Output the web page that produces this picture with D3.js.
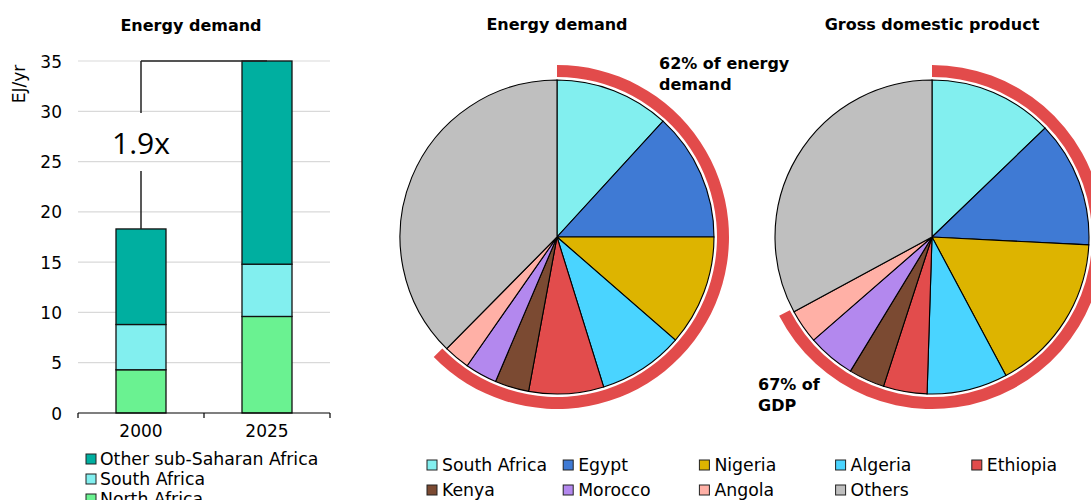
<!DOCTYPE html>
<html><head><meta charset="utf-8">
<script src="https://cdn.jsdelivr.net/npm/d3@7"></script>
<style>
html,body{margin:0;padding:0;background:#fff;}
svg{display:block;font-family:"DejaVu Sans",sans-serif;}
</style></head>
<body><svg id="c" width="1091" height="500"></svg>
<script>
// ---- Data ----
const years = ["2000", "2025"];
const barSeries = ["North Africa", "South Africa", "Other sub-Saharan Africa"];
const northAfrica = [4.3, 9.6];
const southAfricaBar = [4.5, 5.2];
const otherSSA = [9.5, 20.2];
const yTicks = [0, 5, 10, 15, 20, 25, 30, 35];
const growthLabel = "1.9x";

const countries = ["South Africa", "Egypt", "Nigeria", "Algeria", "Ethiopia", "Kenya", "Morocco", "Angola", "Others"];
const energyShare = [11.8, 13.2, 11.4, 8.8, 7.7, 3.5, 3.3, 2.7, 37.6];
const gdpShare = [12.8, 13.0, 16.4, 8.3, 4.5, 3.7, 4.9, 3.5, 32.9];
const energyNote = ["62% of energy", "demand"];
const gdpNote = ["67% of", "GDP"];

// ---- Styles ----
const barColors = {"North Africa": "#6AF291", "South Africa": "#82EFEF", "Other sub-Saharan Africa": "#00AFA0"};
const pieColors = ["#82EFEF", "#3F7AD4", "#DDB400", "#4AD4FF", "#E24C4C", "#7B4A32", "#B388EE", "#FFB0A6", "#BFBFBF"];
const red = "#E24B4B";
const fs = 17, lfs = 17.3;

const svg = d3.select("#c");
svg.append("rect").attr("width", 1091).attr("height", 500).attr("fill", "#fff");

// ---- Bar chart ----
const x = d3.scaleBand().domain(years).range([78, 330]).paddingInner(0).paddingOuter(0);
const y = d3.scaleLinear().domain([0, 35]).range([413, 61]);
const bw = 50;

svg.append("text").attr("x", 191).attr("y", 31).attr("text-anchor", "middle")
  .attr("font-weight", "bold").attr("font-size", 16).text("Energy demand");

svg.append("text").attr("transform", "translate(25,84) rotate(-90)").attr("text-anchor", "middle")
  .attr("font-size", fs).text("EJ/yr");

const grid = svg.append("g");
yTicks.filter(t => t > 0).forEach(t => {
  grid.append("line").attr("x1", 78).attr("x2", 330).attr("y1", y(t)).attr("y2", y(t))
    .attr("stroke", "#D9D9D9").attr("stroke-width", 1.2);
});
const yAxis = d3.axisLeft(y).tickValues(yTicks).tickSize(0).tickPadding(0);
const yg = svg.append("g").attr("transform", "translate(62,0)").call(yAxis);
yg.select(".domain").remove();
yg.selectAll("text").attr("font-size", fs).attr("font-family", "DejaVu Sans").attr("fill", "#000").attr("dy", "0.36em");

const stackData = years.map((yr, i) => ({year: yr, "North Africa": northAfrica[i], "South Africa": southAfricaBar[i], "Other sub-Saharan Africa": otherSSA[i]}));
const stacked = d3.stack().keys(barSeries)(stackData);
stacked.forEach(layer => {
  svg.append("g").selectAll("rect").data(layer).join("rect")
    .attr("x", d => x(d.data.year) + x.bandwidth() / 2 - bw / 2)
    .attr("width", bw)
    .attr("y", d => y(d[1]))
    .attr("height", d => y(d[0]) - y(d[1]))
    .attr("fill", barColors[layer.key]).attr("stroke", "#111").attr("stroke-width", 1.3);
});

// x axis
const xAxisG = svg.append("g");
xAxisG.append("line").attr("x1", 78).attr("x2", 330).attr("y1", 413).attr("y2", 413).attr("stroke", "#000").attr("stroke-width", 1.2);
[78, 204, 330].forEach(px => xAxisG.append("line").attr("x1", px).attr("x2", px).attr("y1", 413).attr("y2", 418).attr("stroke", "#000").attr("stroke-width", 1.2));
years.forEach(yr => xAxisG.append("text").attr("x", x(yr) + x.bandwidth() / 2).attr("y", 437)
  .attr("text-anchor", "middle").attr("font-size", fs).text(yr));

// bracket
const tot = years.map((yr, i) => northAfrica[i] + southAfricaBar[i] + otherSSA[i]);
const cx0 = x(years[0]) + x.bandwidth() / 2, cx1 = x(years[1]) + x.bandwidth() / 2;
const br = svg.append("g").attr("stroke", "#222").attr("stroke-width", 1.5).attr("fill", "none");
br.append("line").attr("x1", cx0).attr("x2", cx0).attr("y1", y(tot[0])).attr("y2", 171);
br.append("line").attr("x1", cx0).attr("x2", cx0).attr("y1", 113).attr("y2", y(tot[1]));
br.append("line").attr("x1", cx0).attr("x2", cx1).attr("y1", y(tot[1])).attr("y2", y(tot[1]));
svg.append("text").attr("x", cx0).attr("y", 154).attr("text-anchor", "middle")
  .attr("font-family", "Open Sans").attr("font-size", 30).text(growthLabel);

// bar legend
const barLegendOrder = ["Other sub-Saharan Africa", "South Africa", "North Africa"];
barLegendOrder.forEach((k, i) => {
  const ly = 465 + i * 20;
  svg.append("rect").attr("x", 86).attr("y", ly - 11).attr("width", 10).attr("height", 10)
    .attr("fill", barColors[k]).attr("stroke", "#222").attr("stroke-width", 1);
  svg.append("text").attr("x", 100).attr("y", ly).attr("font-size", lfs).text(k);
});

// ---- Pies ----
const R = 157;
function drawPie(cx, cy, title, shares, note, noteX, noteY) {
  const g = svg.append("g").attr("transform", `translate(${cx},${cy})`);
  const pie = d3.pie().sort(null).value(d => d)(shares);
  const arc = d3.arc().innerRadius(0).outerRadius(R);
  g.selectAll("path.s").data(pie).join("path").attr("class", "s")
    .attr("d", arc).attr("fill", (d, i) => pieColors[i]).attr("stroke", "#000").attr("stroke-width", 1.1);
  const endA = pie[countries.length - 2].endAngle + 0.02;
  g.append("path").attr("d", d3.arc().innerRadius(160).outerRadius(172).startAngle(0).endAngle(endA)())
    .attr("fill", red);
  svg.append("text").attr("x", cx).attr("y", 30).attr("text-anchor", "middle")
    .attr("font-weight", "bold").attr("font-size", 16).text(title);
  note.forEach((t, i) => svg.append("text").attr("x", noteX).attr("y", noteY + i * 21)
    .attr("font-weight", "bold").attr("font-size", 16).text(t));
}
drawPie(557, 237, "Energy demand", energyShare, energyNote, 659, 69);
drawPie(932, 237, "Gross domestic product", gdpShare, gdpNote, 758, 390);

// pie legend
countries.forEach((c, i) => {
  const col = i % 5, row = Math.floor(i / 5);
  const lx = 427 + col * 136.2, ly = 471 + row * 25;
  svg.append("rect").attr("x", lx).attr("y", ly - 11).attr("width", 10).attr("height", 10)
    .attr("fill", pieColors[i]).attr("stroke", "#222").attr("stroke-width", 1);
  svg.append("text").attr("x", lx + 15).attr("y", ly).attr("font-size", lfs).text(c);
});
</script></body></html>
